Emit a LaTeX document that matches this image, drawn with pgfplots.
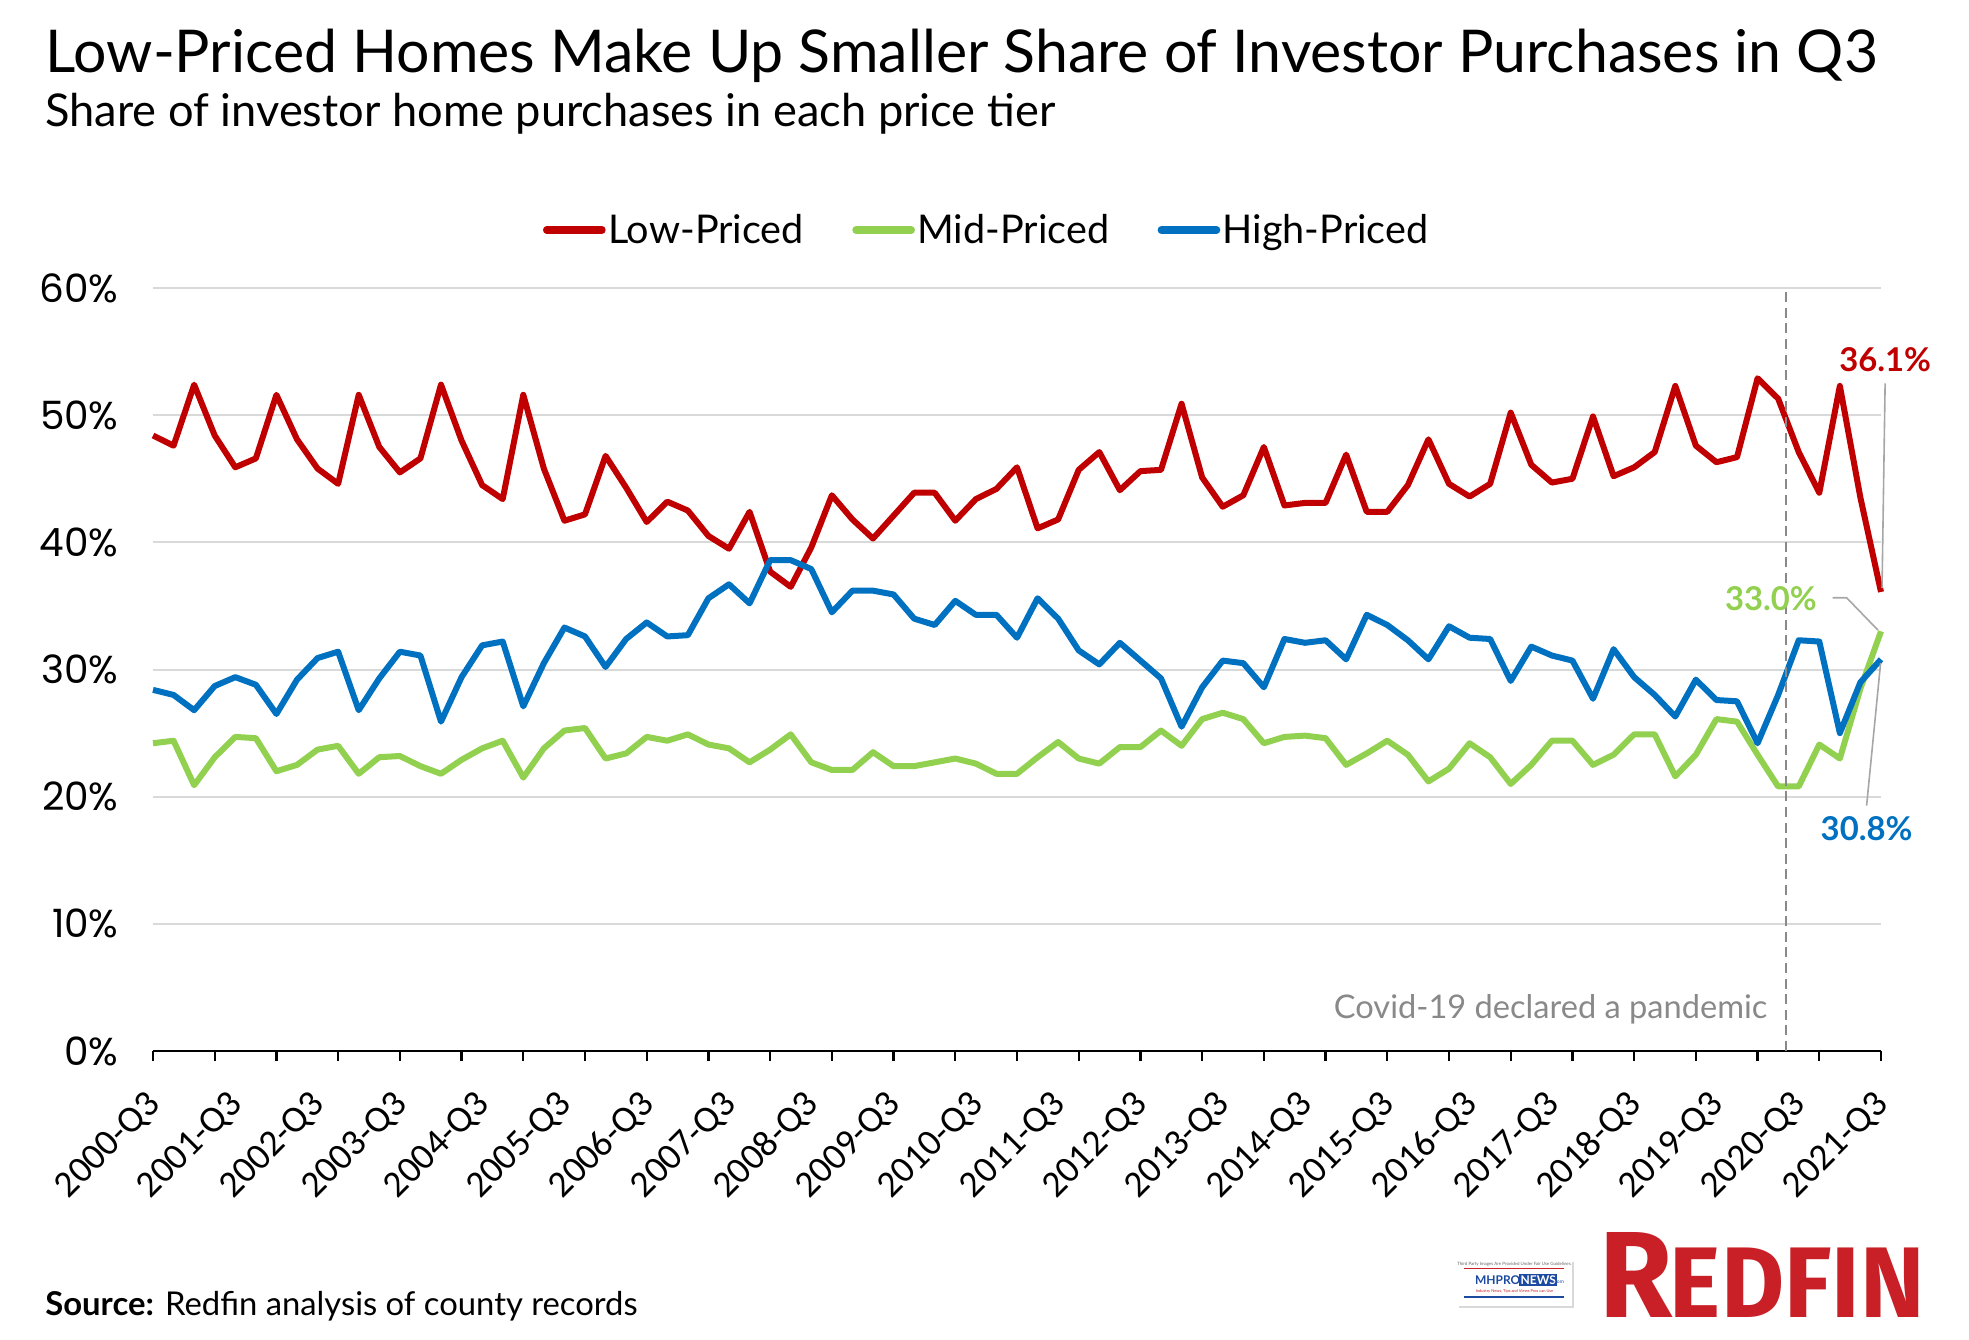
\documentclass[border=0pt]{standalone}
\usepackage{fontspec}
\setmainfont{Lato}
\newfontfamily\ytfont{Poppins}
\newfontfamily\xtfont{Carlito}
\newfontfamily\logofont{Fira Sans}
\usepackage{pgfplots}
\pgfplotsset{compat=1.18}
\usepackage{pgfplotstable}
\usepackage{graphicx}

\definecolor{lowc}{RGB}{192,0,0}
\definecolor{midc}{RGB}{146,208,80}
\definecolor{highc}{RGB}{0,112,192}
\definecolor{gridc}{RGB}{217,217,217}
\definecolor{covidc}{RGB}{137,137,137}
\definecolor{leadc}{RGB}{166,166,166}
\definecolor{redfin}{RGB}{200,32,38}
\definecolor{mhblue}{RGB}{28,74,160}

% i = quarter index, 0 = 2000-Q3 ... 84 = 2021-Q3
\pgfplotstableread{
i low mid high
0 48.4 24.2 28.4
1 47.6 24.4 28.0
2 52.4 20.9 26.8
3 48.4 23.1 28.7
4 45.9 24.7 29.4
5 46.6 24.6 28.8
6 51.6 22.0 26.5
7 48.1 22.5 29.2
8 45.8 23.7 30.9
9 44.6 24.0 31.4
10 51.6 21.8 26.8
11 47.5 23.1 29.3
12 45.5 23.2 31.4
13 46.6 22.4 31.1
14 52.4 21.8 25.9
15 48.0 22.9 29.4
16 44.5 23.8 31.9
17 43.4 24.4 32.2
18 51.6 21.5 27.1
19 45.8 23.8 30.5
20 41.7 25.2 33.3
21 42.2 25.4 32.6
22 46.8 23.0 30.2
23 44.3 23.4 32.4
24 41.6 24.7 33.7
25 43.2 24.4 32.6
26 42.5 24.9 32.7
27 40.5 24.1 35.6
28 39.5 23.8 36.7
29 42.4 22.7 35.2
30 37.7 23.7 38.6
31 36.5 24.9 38.6
32 39.6 22.7 37.9
33 43.7 22.1 34.5
34 41.8 22.1 36.2
35 40.3 23.5 36.2
36 42.1 22.4 35.9
37 43.9 22.4 34.0
38 43.9 22.7 33.5
39 41.7 23.0 35.4
40 43.4 22.6 34.3
41 44.2 21.8 34.3
42 45.9 21.8 32.5
43 41.1 23.1 35.6
44 41.8 24.3 34.0
45 45.7 23.0 31.5
46 47.1 22.6 30.4
47 44.1 23.9 32.1
48 45.6 23.9 30.7
49 45.7 25.2 29.3
50 50.9 24.0 25.5
51 45.1 26.1 28.6
52 42.8 26.6 30.7
53 43.7 26.1 30.5
54 47.5 24.2 28.6
55 42.9 24.7 32.4
56 43.1 24.8 32.1
57 43.1 24.6 32.3
58 46.9 22.5 30.8
59 42.4 23.4 34.3
60 42.4 24.4 33.5
61 44.5 23.3 32.3
62 48.1 21.2 30.8
63 44.6 22.2 33.4
64 43.6 24.2 32.5
65 44.6 23.1 32.4
66 50.2 21.0 29.1
67 46.1 22.5 31.8
68 44.7 24.4 31.1
69 45.0 24.4 30.7
70 49.9 22.5 27.7
71 45.2 23.3 31.6
72 45.9 24.9 29.4
73 47.1 24.9 28.0
74 52.3 21.6 26.3
75 47.6 23.3 29.2
76 46.3 26.1 27.6
77 46.7 25.9 27.5
78 52.9 23.3 24.2
79 51.3 20.8 28.0
80 47.1 20.8 32.3
81 43.9 24.1 32.2
82 52.3 23.0 25.0
83 43.5 28.5 29.0
84 36.1 33.0 30.8
}\datatable

\begin{document}
\begin{tikzpicture}
\useasboundingbox (0,0) rectangle (984.5pt,669.5pt);

% titles
\node[anchor=base west, inner sep=0pt, font=\fontsize{29.5}{31}\selectfont] at (22.5pt,633pt)
  {Low-Priced Homes Make Up Smaller Share of Investor Purchases in Q3};
\node[anchor=base west, inner sep=0pt, font=\fontsize{22.6}{25}\selectfont] at (22.5pt,606pt)
  {Share of investor home purchases in each price tier};
\node[anchor=base west, inner sep=0pt, font=\fontsize{16.4}{18}\selectfont] at (22.5pt,12pt)
  {\textbf{Source:} Redfin analysis of county records};

\begin{axis}[
  at={(76.5pt,144pt)}, anchor=south west, scale only axis,
  width=864pt, height=381.5pt,
  xmin=0, xmax=84, ymin=0, ymax=60,
  clip=false,
  axis x line=bottom, axis y line=left,
  x axis line style={black, line width=1.3pt, -},
  y axis line style={draw=none},
  tick align=outside, major tick length=5pt,
  xtick={0,3,...,84}, xticklabels={},
  xtick style={black, line width=1.1pt},
  extra x ticks={0,4,...,84},
  extra x tick labels={2000-Q3,2001-Q3,2002-Q3,2003-Q3,2004-Q3,2005-Q3,2006-Q3,2007-Q3,2008-Q3,2009-Q3,2010-Q3,2011-Q3,2012-Q3,2013-Q3,2014-Q3,2015-Q3,2016-Q3,2017-Q3,2018-Q3,2019-Q3,2020-Q3,2021-Q3},
  extra x tick style={major tick length=0pt},
  xticklabel style={yshift=-24pt, xshift=1pt, font=\xtfont\fontsize{18.7}{19}\selectfont, rotate=45, anchor=east, inner sep=0pt},
  ytick={0,10,...,60},
  yticklabels={0\%,10\%,20\%,30\%,40\%,50\%,60\%},
  ytick style={draw=none},
  yticklabel style={font=\ytfont\fontsize{19.5}{20}\selectfont, anchor=east, inner sep=0pt, xshift=-12pt},
  ymajorgrids, grid style={gridc, line width=1pt},
  legend style={at={(0.4826,1.076)}, anchor=center, legend columns=3, draw=none, fill=none,
    font=\fontsize{19.8}{20}\selectfont, nodes={inner sep=1.2pt},
    /tikz/every even column/.append style={column sep=23pt}},
  legend image code/.code={\draw[#1, line width=3.75pt, line cap=round] (1.9pt,0pt) -- (29.5pt,0pt);},
]
\addplot[lowc, line width=3pt, line join=round] table[x=i, y=low] {\datatable};
\addlegendentry{Low-Priced}
\addplot[midc, line width=3pt, line join=round] table[x=i, y=mid] {\datatable};
\addlegendentry{Mid-Priced}
\addplot[highc, line width=3pt, line join=round] table[x=i, y=high] {\datatable};
\addlegendentry{High-Priced}

% covid marker
\draw[covidc, line width=1pt, dash pattern=on 5pt off 2.8pt] (axis cs:79.4,0) -- (axis cs:79.4,60);
\node[anchor=east, inner sep=0pt, text=covidc, font=\fontsize{16.3}{17}\selectfont] at (axis cs:78.5,3.3) {Covid-19 declared a pandemic};

% end labels
\draw[leadc, line width=0.8pt] (axis cs:84.2,52.5) -- (axis cs:84.05,36.4);
\node[text=lowc, font=\bfseries\fontsize{16.4}{17}\selectfont, inner sep=0pt] at (axis cs:84.2,54.4) {36.1\%};
\draw[leadc, line width=0.8pt] (axis cs:81.65,35.64) -- (axis cs:82.33,35.64) -- (axis cs:83.85,33.1);
\node[text=midc, font=\bfseries\fontsize{16.4}{17}\selectfont, inner sep=0pt] at (axis cs:78.65,35.6) {33.0\%};
\draw[leadc, line width=0.8pt] (axis cs:83.98,30.5) -- (axis cs:83.3,19.3);
\node[text=highc, font=\bfseries\fontsize{16.4}{17}\selectfont, inner sep=0pt] at (axis cs:83.3,17.45) {30.8\%};
\end{axis}

% MHProNews badge
\fill[black!15] (729.5pt,15.5pt) rectangle (787pt,38.5pt);
\fill[white] (728.5pt,16.5pt) rectangle (786pt,39.5pt);
\node[anchor=north, inner sep=0pt, font=\fontsize{2.2}{2.5}\selectfont, text=black!60] at (757.25pt,38.8pt) {Third Party Images Are Provided Under Fair Use Guidelines.};
\draw[redfin, line width=0.5pt] (732pt,35.5pt) -- (782pt,35.5pt);
\node[anchor=west, inner sep=0.3pt, font=\bfseries\fontsize{6}{6}\selectfont, text=mhblue] at (737pt,29.5pt) {MHPRO};
\node[anchor=west, inner sep=0.6pt, fill=mhblue, font=\bfseries\fontsize{6}{6}\selectfont, text=white] at (759.5pt,29.5pt) {NEWS};
\node[anchor=west, inner sep=0pt, font=\fontsize{2.5}{3}\selectfont, text=mhblue] at (776.5pt,28.5pt) {.com};
\node[inner sep=0pt, font=\fontsize{2}{2.5}\selectfont, text=redfin] at (757.25pt,24pt) {Industry News, Tips and Views Pros can Use};
\draw[mhblue, line width=0.7pt] (732pt,21pt) -- (782pt,21pt);

% Redfin logo
\node[anchor=south west, inner sep=0pt, text=redfin] at (799.5pt,10.5pt)
  {\resizebox{162.5pt}{42.5pt}{\logofont\bfseries{\fontsize{22}{22}\selectfont R}\kern-0.5pt{\fontsize{18}{18}\selectfont EDFIN}}};
\end{tikzpicture}
\end{document}
